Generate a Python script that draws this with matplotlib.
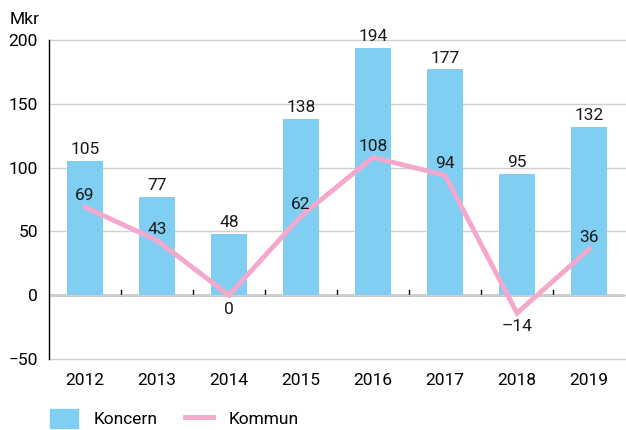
import numpy as np
import matplotlib.pyplot as plt
from matplotlib.patches import Patch
from matplotlib.lines import Line2D

years = ['2012', '2013', '2014', '2015', '2016', '2017', '2018', '2019']
koncern = [105, 77, 48, 138, 194, 177, 95, 132]
kommun = [69, 43, 0, 62, 108, 94, -14, 36]

bar_col = '#80cff3'
line_col = '#f4a8cb'

plt.rcParams['font.family'] = ['Roboto', 'DejaVu Sans']
plt.rcParams['font.size'] = 12.5

fig = plt.figure(figsize=(6.26, 4.30), dpi=100)
ax = fig.add_axes([49/626, 71/430, 576/626, 319/430])

x = np.arange(len(years))
ax.bar(x, koncern, width=0.49, color=bar_col, zorder=2)
ax.plot(x, kommun, color=line_col, lw=3.5, zorder=3, solid_joinstyle='miter')

for xi, v in zip(x, koncern):
    ax.text(xi, v + 3, str(v), ha='center', va='bottom', color='#1a1a1a')
for xi, v in zip(x, kommun):
    if v <= 0:
        ax.text(xi, v - 5, str(v).replace('-', '\u2013') if v < 0 else str(v),
                ha='center', va='top', color='#1a1a1a')
    else:
        ax.text(xi, v + 3, str(v), ha='center', va='bottom', color='#1a1a1a')

ax.set_xlim(-0.5, len(years) - 0.5)
ax.set_ylim(-50, 200)
ax.set_yticks([-50, 0, 50, 100, 150, 200])
ax.set_xticks(x)
ax.set_xticklabels(years)
ax.tick_params(axis='x', length=0, pad=10)
ax.tick_params(axis='y', length=0, pad=8)
ax.grid(axis='y', color='#d0d0d0', lw=1, zorder=0)
for gl in ax.get_ygridlines():
    gl.set_clip_on(False)

for s in ['top', 'right', 'bottom']:
    ax.spines[s].set_visible(False)
ax.spines['left'].set_color('black')
ax.spines['left'].set_linewidth(1)
ax.axhline(0, color='black', lw=1, zorder=1)

# small category separators on the zero line
for b in np.arange(0.5, len(years) - 0.5, 1):
    ax.plot([b, b], [0, 4], color='black', lw=1, zorder=1)

fig.text(10/626, 1 - 20/430, 'Mkr', ha='left', va='center')

handles = [Patch(color=bar_col), Line2D([0], [0], color=line_col, lw=3.5)]
fig.legend(handles, ['Koncern', 'Kommun'], loc='lower left',
           bbox_to_anchor=(50/626, 2/430), ncol=2, frameon=False,
           borderpad=0, borderaxespad=0,
           handlelength=1.6, handleheight=1.3, columnspacing=1.6,
           handletextpad=0.9)

fig.savefig('out.png', dpi=100)
